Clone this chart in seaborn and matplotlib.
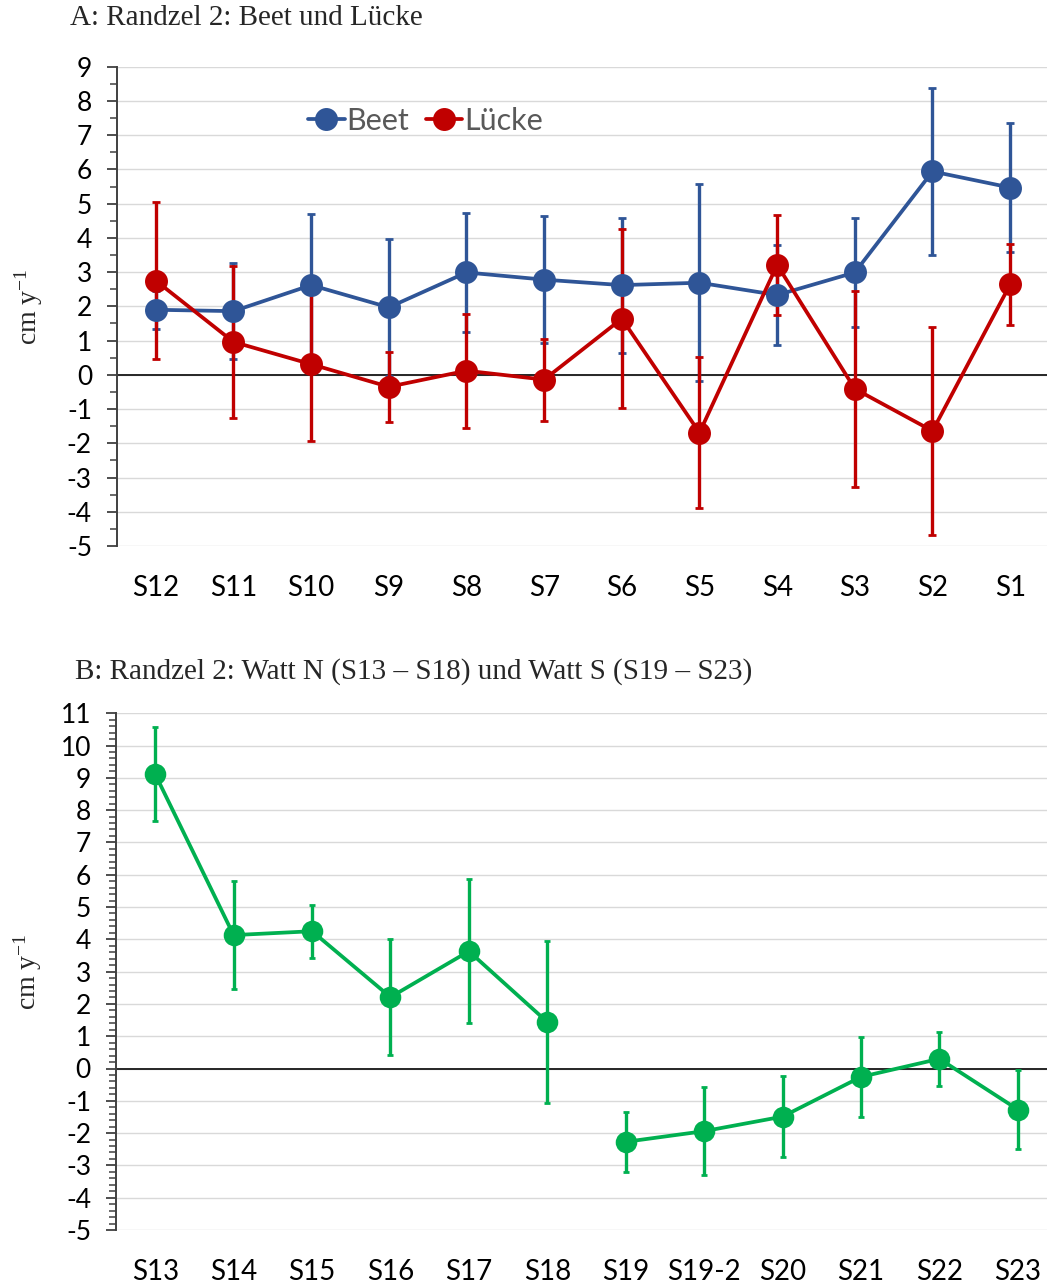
import numpy as np
import pandas as pd
import matplotlib
matplotlib.use('Agg')
import matplotlib.pyplot as plt
import seaborn as sns
from matplotlib.ticker import MultipleLocator

# Panel A: Randzel 2, Beet und Luecke
sites_a = ['S12', 'S11', 'S10', 'S9', 'S8', 'S7', 'S6', 'S5', 'S4', 'S3', 'S2', 'S1']
beet_mean = [1.90, 1.86, 2.62, 1.97, 2.99, 2.78, 2.62, 2.69, 2.33, 2.99, 5.94, 5.47]
beet_err = [0.56, 1.40, 2.08, 2.00, 1.73, 1.85, 1.97, 2.88, 1.47, 1.59, 2.45, 1.89]
luecke_mean = [2.75, 0.96, 0.31, -0.35, 0.12, -0.14, 1.64, -1.69, 3.21, -0.41, -1.64, 2.64]
luecke_err = [2.30, 2.22, 2.23, 1.03, 1.66, 1.20, 2.62, 2.20, 1.47, 2.87, 3.05, 1.18]

# Panel B: Watt N (S13-S18) / Watt S (S19-S23)
sites_b = ['S13', 'S14', 'S15', 'S16', 'S17', 'S18', 'S19', 'S19-2', 'S20', 'S21', 'S22', 'S23']
area_b = ['N'] * 6 + ['S'] * 6
watt_mean = [9.11, 4.13, 4.25, 2.21, 3.63, 1.44, -2.27, -1.94, -1.49, -0.26, 0.30, -1.27]
watt_err = [1.46, 1.67, 0.82, 1.80, 2.23, 2.50, 0.93, 1.37, 1.25, 1.24, 0.83, 1.23]

BLUE = '#2F5597'
RED = '#C00000'
GREEN = '#00B050'
W, H = 1047, 1287

sns.set_theme(style='white')
plt.rcParams['font.family'] = ['Lato', 'DejaVu Sans']
plt.rcParams['mathtext.default'] = 'regular'
plt.rcParams['axes.unicode_minus'] = False


def style_axis(ax, n, ymin, ymax, minor_step, cap_label):
    ax.set_xlim(-0.5, n - 0.5)
    ax.set_ylim(ymin, ymax)
    ax.yaxis.set_major_locator(MultipleLocator(1))
    ax.yaxis.set_minor_locator(MultipleLocator(minor_step))
    ax.grid(axis='y', which='major', color='#d9d9d9', lw=1.0)
    ax.grid(axis='x', visible=False)
    ax.set_axisbelow(True)
    for s in ['top', 'right', 'bottom']:
        ax.spines[s].set_visible(False)
    ax.spines['left'].set_color('#404040')
    ax.spines['left'].set_linewidth(1.4)
    ax.tick_params(axis='y', which='major', direction='out', length=7, width=1.3,
                   color='#404040', labelsize=19, labelcolor='black', pad=11, left=True)
    ax.tick_params(axis='y', which='minor', direction='out', length=5, width=1.1,
                   color='#404040', left=True)
    ax.tick_params(axis='x', length=0, labelsize=20, labelcolor='black', pad=21)
    ax.axhline(0, color='#262626', lw=1.4, zorder=1.2)
    ax.set_xlabel('')
    ax.set_ylabel(cap_label, family='Liberation Serif', fontsize=20)
    ax.yaxis.set_label_coords(-0.077, 0.5)


fig = plt.figure(figsize=(W / 100, H / 100), dpi=100)
ax_a = fig.add_axes([117 / W, 1 - 546 / H, (1049 - 117) / W, (546 - 66.7) / H])
ax_b = fig.add_axes([116 / W, 1 - 1230 / H, (1057 - 116) / W, (1230 - 713.2) / H])

# --- Panel A
df_a = pd.DataFrame({
    'site': sites_a * 2,
    'value': beet_mean + luecke_mean,
    'series': ['Beet'] * len(sites_a) + ['Lücke'] * len(sites_a),
})
x_a = np.arange(len(sites_a))
ax_a.errorbar(x_a, beet_mean, yerr=beet_err, fmt='none', ecolor=BLUE,
              elinewidth=2.4, capsize=3, capthick=2.0, zorder=1.5)
ax_a.errorbar(x_a, luecke_mean, yerr=luecke_err, fmt='none', ecolor=RED,
              elinewidth=2.4, capsize=3, capthick=2.0, zorder=1.6)
sns.pointplot(data=df_a, x='site', y='value', hue='series', order=sites_a,
              hue_order=['Beet', 'Lücke'], palette=[BLUE, RED], markers='o',
              errorbar=None, markersize=14.5, linewidth=2.7, ax=ax_a)
style_axis(ax_a, len(sites_a), -5, 9, 0.5, r'cm y$^{-1}$')

h, l = ax_a.get_legend_handles_labels()
ax_a.legend(h, l, loc='center left', bbox_to_anchor=(0.205, 0.887), frameon=False,
            ncol=2, fontsize=22, handlelength=1.2, handletextpad=0.05,
            columnspacing=0.55, borderaxespad=0, borderpad=0, labelcolor='#595959')

# --- Panel B (N and S groups are not connected)
df_b = pd.DataFrame({'site': sites_b, 'value': watt_mean, 'area': area_b})
x_b = np.arange(len(sites_b))
ax_b.errorbar(x_b, watt_mean, yerr=watt_err, fmt='none', ecolor=GREEN,
              elinewidth=2.4, capsize=2.4, capthick=2.0, zorder=1.5)
sns.pointplot(data=df_b, x='site', y='value', hue='area', order=sites_b,
              palette=[GREEN, GREEN], markers='o', errorbar=None,
              markersize=13.5, linewidth=2.7, legend=False, ax=ax_b)
style_axis(ax_b, len(sites_b), -5, 11, 0.2, r'cm y$^{-1}$')

fig.text(70 / W, 1 - 18 / H, 'A: Randzel 2: Beet und Lücke',
         family='Liberation Serif', fontsize=21, va='center', ha='left')
fig.text(75 / W, 1 - 672 / H, 'B: Randzel 2: Watt N (S13 – S18) und Watt S (S19 – S23)',
         family='Liberation Serif', fontsize=21, va='center', ha='left')

fig.savefig('out.png', dpi=100)
